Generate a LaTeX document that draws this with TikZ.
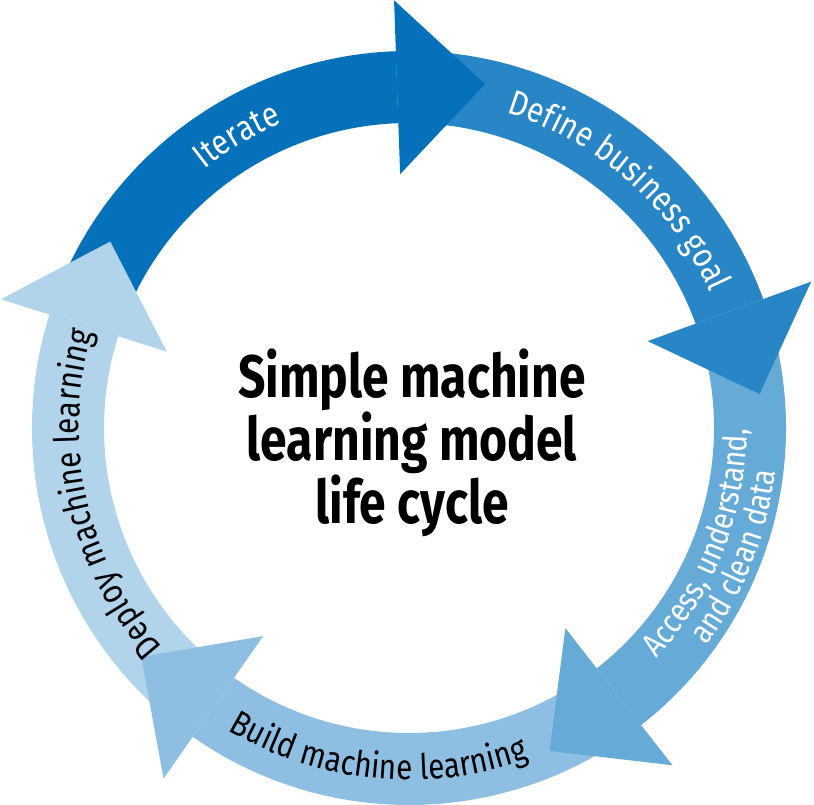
\documentclass[tikz,border=0pt]{standalone}
\usepackage{fontspec}
\setmainfont{Fira Sans}
\newfontfamily\bandfont{Fira Sans}[FakeStretch=0.85]
\newfontfamily\titlefont{Fira Sans}[FakeStretch=0.8]
\usetikzlibrary{calc,decorations.text}
\usepackage{xcolor}
\definecolor{itercol}{HTML}{0571BB}
\definecolor{defcol}{HTML}{2886C7}
\definecolor{acccol}{HTML}{66AAD7}
\definecolor{buildcol}{HTML}{8EBFE2}
\definecolor{deploycol}{HTML}{B1D4EB}
\newcommand\bandtxt{\bandfont\fontsize{35pt}{40pt}\selectfont}
\newcommand\acctxt{\bandfont\fontsize{33pt}{38pt}\selectfont}

\begin{document}
\begin{tikzpicture}[bandtext/.style={decorate,decoration={text along path,text align=center,#1}}]
        \useasboundingbox (-409pt,-377pt) rectangle (405pt,428pt);
        % ring bands
        \fill[itercol] (162.5:305pt) arc[start angle=162.5,end angle=92,radius=305pt] -- (92:377pt) arc[start angle=92,end angle=162.5,radius=377pt] -- cycle;
        \fill[defcol] (92:305pt) arc[start angle=92,end angle=20,radius=305pt] -- (20:377pt) arc[start angle=20,end angle=92,radius=377pt] -- cycle;
        \fill[acccol] (20:305pt) arc[start angle=20,end angle=-52,radius=305pt] -- (-52:377pt) arc[start angle=-52,end angle=20,radius=377pt] -- cycle;
        \fill[buildcol] (-52:305pt) arc[start angle=-52,end angle=-125,radius=305pt] -- (-125:377pt) arc[start angle=-125,end angle=-52,radius=377pt] -- cycle;
        \fill[deploycol] (-125:305pt) arc[start angle=-125,end angle=-197.5,radius=305pt] -- (-197.5:377pt) arc[start angle=-197.5,end angle=-125,radius=377pt] -- cycle;
        % arrow heads
        \fill[itercol] (92:254pt) -- (92:428pt) -- ($(92:341pt)+(2:88pt)$) -- cycle;
        \fill[defcol] (20:254pt) -- (20:428pt) -- ($(20:341pt)+(-70:88pt)$) -- cycle;
        \fill[acccol] (-52:254pt) -- (-52:428pt) -- ($(-52:341pt)+(-142:88pt)$) -- cycle;
        \fill[buildcol] (-125:254pt) -- (-125:428pt) -- ($(-125:341pt)+(-215:88pt)$) -- cycle;
        \fill[deploycol] (162.5:254pt) -- (162.5:428pt) -- ($(162.5:341pt)+(72.5:88pt)$) -- cycle;
        % labels along the ring
        \path[bandtext={text color=white,text={|\bandtxt|Iterate}}] (160:330pt) arc[start angle=160,end angle=81,radius=330pt];
        \path[bandtext={text color=white,text={|\bandtxt|Define business goal}}] (88:330pt) arc[start angle=88,end angle=9,radius=330pt];
        \path[bandtext={text color=white,text={|\acctxt|Access, understand,}}] (-70:338pt) arc[start angle=-70,end angle=27,radius=338pt];
        \path[bandtext={text color=white,text={|\acctxt|and clean data}}] (-70:369pt) arc[start angle=-70,end angle=27,radius=369pt];
        \path[bandtext={text color=black,text={|\bandtxt|Build machine learning}}] (-140:352pt) arc[start angle=-140,end angle=-51,radius=352pt];
        \path[bandtext={text color=black,text={|\bandtxt|Deploy machine learning}}] (235:330pt) arc[start angle=235,end angle=150,radius=330pt];
        % title
        \node[font=\titlefont\bfseries\fontsize{60pt}{54.5pt}\selectfont,align=center] (title) at (3pt,-15pt) {Simple machine\\learning model\\life cycle};
\end{tikzpicture}
\end{document}
